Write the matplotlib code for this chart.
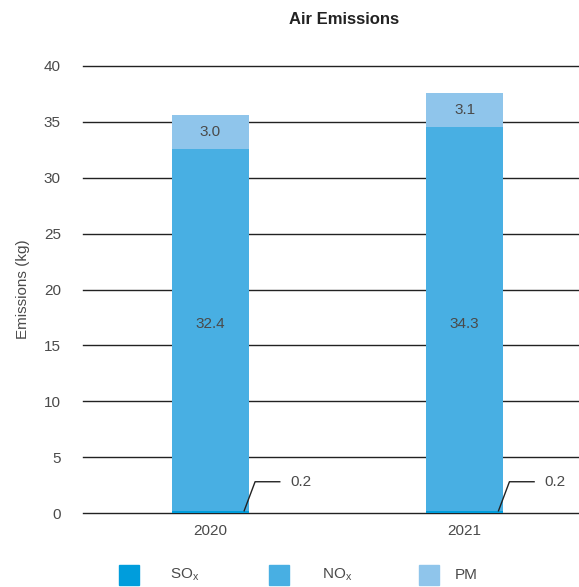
import matplotlib.pyplot as plt
import numpy as np

# Emisiones al aire por año (kg)
anios = ["2020", "2021"]
sox = [0.2, 0.2]
nox = [32.4, 34.3]
pm = [3.0, 3.1]

col_sox = "#009ddc"
col_nox = "#48afe3"
col_pm = "#8fc5eb"
gris = "#4a4a4a"

plt.rcParams["font.family"] = ["Liberation Sans", "DejaVu Sans"]
plt.rcParams["mathtext.fontset"] = "custom"
plt.rcParams["mathtext.rm"] = "Liberation Sans"

fig = plt.figure(figsize=(5.79, 5.87), dpi=100)
ax = fig.add_axes([0.1434, 0.126, 0.8566, 0.7616])

x = np.array([0.5, 1.5])
ancho = 0.303

sox = np.array(sox)
nox = np.array(nox)
pm = np.array(pm)

ax.set_ylim(0, 40)
ax.set_xlim(0, 1.95)
for v in range(0, 41, 5):
    ax.axhline(v, color="#222222", lw=1.0, zorder=1, clip_on=False)

ax.bar(x, sox, ancho, color=col_sox, zorder=2)
ax.bar(x, nox, ancho, bottom=sox, color=col_nox, zorder=2)
ax.bar(x, pm, ancho, bottom=sox + nox, color=col_pm, zorder=2)

# Etiquetas de valores (NOx a una altura común)
y_nox = np.mean(sox + nox / 2)
for i in range(len(x)):
    ax.text(x[i], y_nox, f"{nox[i]:.1f}", ha="center", va="center",
            fontsize=11, color=gris, zorder=3)
    ax.text(x[i], sox[i] + nox[i] + pm[i] / 2, f"{pm[i]:.1f}", ha="center", va="center",
            fontsize=11, color=gris, zorder=3)
    # línea guía para SOx
    x0 = x[i] + ancho / 2 - 0.018
    ax.plot([x0, x0 + 0.043, x0 + 0.14], [sox[i], 2.8, 2.8], color="#222222",
            lw=1, zorder=3, clip_on=False)
    ax.text(x0 + 0.18, 2.8, f"{sox[i]:.1f}", ha="left", va="center",
            fontsize=11, color=gris)

ax.set_xticks(x)
ax.set_xticklabels(anios)
ax.set_yticks(range(0, 41, 5))
ax.tick_params(length=0, labelsize=11, colors=gris, pad=8)
ax.tick_params(axis="y", pad=16)
for s in ax.spines.values():
    s.set_visible(False)

ax.set_ylabel("Emissions (kg)", fontsize=11, color=gris, labelpad=10)
fig.text(0.5935, 0.967, "Air Emissions", ha="center", va="center",
         fontsize=12, fontweight="bold", color="#222222")

# Leyenda manual
items = [(r"SO$_\mathregular{x}$", col_sox), (r"NO$_\mathregular{x}$", col_nox), ("PM", col_pm)]
cuad_x = [119, 269, 419]
txt_x = [170, 322, 455]
for (lab, c), qx, tx in zip(items, cuad_x, txt_x):
    fig.patches.append(plt.Rectangle((qx / 579, 1 - 585 / 587), 20 / 579, 20 / 587,
                                     transform=fig.transFigure, color=c, figure=fig))
    fig.text(tx / 579, 1 - 575 / 587, lab, ha="left", va="center",
             fontsize=11, color=gris)

fig.savefig("out.png", dpi=100)
